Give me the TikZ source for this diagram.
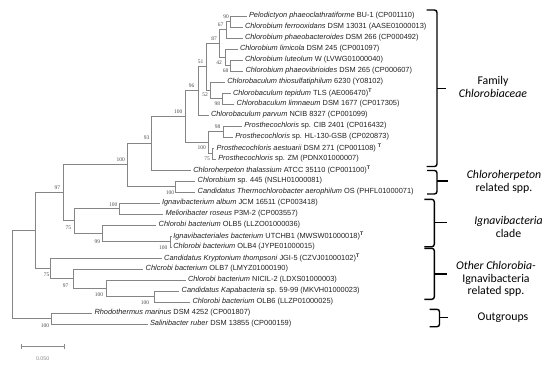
\documentclass[tikz,border=0pt]{standalone}
\usepackage{fontspec}
\setmainfont{Liberation Sans}
\newfontfamily\calib{Carlito}
\newfontfamily\serifb{Liberation Serif}
\definecolor{treegray}{HTML}{858585}
\definecolor{leafcol}{HTML}{222222}
\definecolor{bscol}{HTML}{4A4A4A}
\definecolor{sbcol}{HTML}{8A8A8A}
\newcommand{\typeT}{\textsuperscript{\textbf{T}}}
\begin{document}
\begin{tikzpicture}[x=1pt,y=-1pt,
  br/.style={draw=treegray, line width=0.85pt},
  leaf/.style={anchor=west, inner sep=0pt, outer sep=0pt, font=\fontsize{7.4}{8}\selectfont, text=leafcol},
  bs/.style={inner sep=0pt, font=\serifb\fontsize{5.5}{6}\selectfont, text=bscol},
  bracepath/.style={draw=black, line width=1.4pt, rounded corners=2.5pt},
  grp/.style={align=center, inner sep=0pt, font=\calib\fontsize{11.8}{12.6}\selectfont, text=black}]
\useasboundingbox (0,0) rectangle (550,365);
\fill[white] (0,0) rectangle (550,365);

% internal nodes
\coordinate (n90) at (230.7,21.5);
\coordinate (n67) at (226.7,29.75);
\coordinate (n68) at (230,65.5);
\coordinate (n42) at (225,57.25);
\coordinate (n87) at (219,43.5);
\coordinate (n98a) at (222.5,98.5);
\coordinate (n52) at (210,90.25);
\coordinate (n51) at (206.5,66.9);
\coordinate (n96) at (198.3,90.9);
\coordinate (n98b) at (223,131.5);
\coordinate (n75) at (212,153.5);
\coordinate (nS) at (208.3,142.5);
\coordinate (nP) at (185,116.7);
\coordinate (nM) at (151.7,143.4);
\coordinate (nN) at (175.7,186.5);
\coordinate (nG) at (127.5,164.9);
\coordinate (nJ) at (119.5,208.5);
\coordinate (nL) at (170.7,241.5);
\coordinate (nK) at (102.7,233.25);
\coordinate (nH) at (74,220.9);
\coordinate (nB) at (63,192.9);
\coordinate (nF) at (154,296.5);
\coordinate (nE) at (106.7,288.25);
\coordinate (nD) at (73.3,278.6);
\coordinate (nC) at (50.7,268.3);
\coordinate (nI) at (35,230.6);
\coordinate (nO) at (51.7,318.5);
\coordinate (root) at (12.3,274.6);

% leaves: tip coordinate + label
\newcommand{\leafat}[4]{\coordinate (t#1) at (#2-2.5,#3); \node[leaf] (L#1) at (#2,#3) {#4};}
\leafat{1}{249}{16}{\textit{Pelodictyon phaeoclathratiforme} BU-1 (CP001110)}
\leafat{2}{245}{27}{\textit{Chlorobium ferrooxidans} DSM 13031 (AASE01000013)}
\leafat{3}{245}{38}{\textit{Chlorobium phaeobacteroides} DSM 266 (CP000492)}
\leafat{4}{240}{49}{\textit{Chlorobium limicola} DSM 245 (CP001097)}
\leafat{5}{245}{60}{\textit{Chlorobium luteolum} W (LVWG01000040)}
\leafat{6}{245.5}{71}{\textit{Chlorobium phaeovibrioides} DSM 265 (CP000607)}
\leafat{7}{227.3}{82}{\textit{Chlorobaculum thiosulfatiphilum} 6230 (Y08102)}
\leafat{8}{233}{93}{\textit{Chlorobaculum tepidum} TLS (AE006470)\typeT}
\leafat{9}{236.7}{104}{\textit{Chlorobaculum limnaeum} DSM 1677 (CP017305)}
\leafat{10}{211}{115}{\textit{Chlorobaculum parvum} NCIB 8327 (CP001099)}
\leafat{11}{244.3}{126}{\textit{Prosthecochloris} sp. CIB 2401 (CP016432)}
\leafat{12}{235.3}{137}{\textit{Prosthecochloris} sp. HL-130-GSB (CP020873)}
\leafat{13}{216.7}{148}{\textit{Prosthecochloris aestuarii} DSM 271 (CP001108) \typeT}
\leafat{14}{218.3}{159}{\textit{Prosthecochloris} sp. ZM (PDNX01000007)}
\leafat{15}{193.3}{170}{\textit{Chloroherpeton thalassium} ATCC 35110 (CP001100)\typeT}
\leafat{16}{197.7}{181}{\textit{Chlorobium} sp. 445 (NSLH01000081)}
\leafat{17}{197.7}{192}{\textit{Candidatus Thermochlorobacter aerophilum} OS (PHFL01000071)}
\leafat{18}{162}{203}{\textit{Ignavibacterium album} JCM 16511 (CP003418)}
\leafat{19}{165.5}{214}{\textit{Melioribacter roseus} P3M-2 (CP003557)}
\leafat{20}{158.7}{225}{\textit{Chlorobi bacterium} OLB5 (LLZO01000036)}
\leafat{21}{173.3}{236}{\textit{Ignavibacteriales bacterium} UTCHB1 (MWSW01000018)\typeT}
\leafat{22}{173.3}{247}{\textit{Chlorobi bacterium} OLB4 (JYPE01000015)}
\leafat{23}{164.2}{258}{\textit{Candidatus Kryptonium thompsoni} JGI-5 (CZVJ01000102)\typeT}
\leafat{24}{145.7}{269}{\textit{Chlcrobi bacterium} OLB7 (LMYZ01000190)}
\leafat{25}{188}{280}{\textit{Chlorobi bacterium} NICIL-2 (LDXS01000003)}
\leafat{26}{181.7}{291}{\textit{Candidatus Kapabacteria} sp. 59-99 (MKVH01000023)}
\leafat{27}{192.5}{302}{\textit{Chlorobi bacterium} OLB6 (LLZP01000025)}
\leafat{28}{94.5}{313}{\textit{Rhodothermus marinus} DSM 4252 (CP001807)}
\leafat{29}{150}{324}{\textit{Salinibacter ruber} DSM 13855 (CP000159)}

% branches
\draw[br] (n90) |- (t1); \draw[br] (n90) |- (t2);
\draw[br] (n67) |- (n90); \draw[br] (n67) |- (t3);
\draw[br] (n68) |- (t5); \draw[br] (n68) |- (t6);
\draw[br] (n42) |- (t4); \draw[br] (n42) |- (n68);
\draw[br] (n87) |- (n67); \draw[br] (n87) |- (n42);
\draw[br] (n98a) |- (t8); \draw[br] (n98a) |- (t9);
\draw[br] (n52) |- (t7); \draw[br] (n52) |- (n98a);
\draw[br] (n51) |- (n87); \draw[br] (n51) |- (n52);
\draw[br] (n96) |- (n51); \draw[br] (n96) |- (t10);
\draw[br] (n98b) |- (t11); \draw[br] (n98b) |- (t12);
\draw[br] (n75) |- (t13); \draw[br] (n75) |- (t14);
\draw[br] (nS) |- (n98b); \draw[br] (nS) |- (n75);
\draw[br] (nP) |- (n96); \draw[br] (nP) |- (nS);
\draw[br] (nM) |- (nP); \draw[br] (nM) |- (t15);
\draw[br] (nN) |- (t16); \draw[br] (nN) |- (t17);
\draw[br] (nG) |- (nM); \draw[br] (nG) |- (nN);
\draw[br] (nJ) |- (t18); \draw[br] (nJ) |- (t19);
\draw[br] (nL) |- (t21); \draw[br] (nL) |- (t22);
\draw[br] (nK) |- (t20); \draw[br] (nK) |- (nL);
\draw[br] (nH) |- (nJ); \draw[br] (nH) |- (nK);
\draw[br] (nB) |- (nG); \draw[br] (nB) |- (nH);
\draw[br] (nF) |- (t26); \draw[br] (nF) |- (t27);
\draw[br] (nE) |- (t25); \draw[br] (nE) |- (nF);
\draw[br] (nD) |- (t24); \draw[br] (nD) |- (nE);
\draw[br] (nC) |- (t23); \draw[br] (nC) |- (nD);
\draw[br] (nI) |- (nB); \draw[br] (nI) |- (nC);
\draw[br] (nO) |- (t28); \draw[br] (nO) |- (t29);
\draw[br] (root) |- (nI); \draw[br] (root) |- (nO);

% bootstrap values
\node[bs] (b90) at (226,16.7) {90};
\node[bs] (b67) at (220.7,25) {67};
\node[bs] (b87) at (214,38.3) {87};
\node[bs] (b51) at (200.5,61.7) {51};
\node[bs] (b42) at (219,62.3) {42};
\node[bs] (b68) at (225.5,70.3) {68};
\node[bs] (b96) at (191.7,85.7) {96};
\node[bs] (b52) at (205,95) {52};
\node[bs] (b98a) at (217.3,103.7) {98};
\node[bs] (bP) at (178.3,111.7) {100};
\node[bs] (b98b) at (217.7,126.7) {98};
\node[bs] (bS) at (201.7,147.7) {100};
\node[bs] (b75) at (207,158.5) {75};
\node[bs] (bM) at (146.7,137.7) {93};
\node[bs] (bG) at (120.7,160) {100};
\node[bs] (bN) at (170,192.3) {100};
\node[bs] (bB) at (57.3,187.7) {97};
\node[bs] (bJ) at (113.3,204.3) {100};
\node[bs] (bH) at (68.3,227.3) {75};
\node[bs] (bK) at (97.3,241.7) {99};
\node[bs] (bL) at (163.3,247.7) {100};
\node[bs] (bC) at (46.7,275) {75};
\node[bs] (bD) at (65.7,285.7) {97};
\node[bs] (bE) at (99,295) {100};
\node[bs] (bF) at (145,302.7) {100};
\node[bs] (bO) at (45,325.3) {100};

% scale bar
\coordinate (sbL) at (21.7,346);
\coordinate (sbR) at (64.3,346);
\draw[draw=sbcol, line width=0.8pt] (sbL) -- (sbR);
\draw[draw=sbcol, line width=0.8pt] ([yshift=-2.5]sbL) -- ([yshift=2.5]sbL);
\draw[draw=sbcol, line width=0.8pt] ([yshift=-2.5]sbR) -- ([yshift=2.5]sbR);
\node[inner sep=0pt, font=\fontsize{5.3}{6}\selectfont, text=sbcol] (sblab) at (42.7,358.3) {0.050};

% group braces
\newcommand{\grpbrace}[6]{%
  \draw[bracepath] (#1,#3) -- (#2,#3) -- (#2,#4) -- (#1,#4);
  \draw[draw=black, line width=1.4pt] (#2,#5) -- (#6,#5);}
\grpbrace{426.7}{437}{10}{166.5}{88.3}{445.5}
\grpbrace{427}{437}{170.5}{194}{181}{448.3}
\grpbrace{424.3}{434.3}{199.3}{246.7}{222.3}{446.7}
\grpbrace{424.3}{434.3}{248.3}{299.3}{274}{446.7}
\grpbrace{429.5}{439.5}{309.3}{326.7}{317.7}{448.3}

\node[grp] (gFam) at (493,87) {Family\\\textit{Chlorobiaceae}};
\node[grp] (gCh) at (504,182) {\textit{Chloroherpeton}\\related spp.};
\node[grp] (gIg) at (508.5,227) {\textit{Ignavibacteria}\\clade};
\node[grp] (gOt) at (496,279) {\textit{Other Chlorobia-}\\Ignavibacteria\\related spp.};
\node[grp] (gOut) at (503,317.5) {Outgroups};
\end{tikzpicture}
\end{document}
